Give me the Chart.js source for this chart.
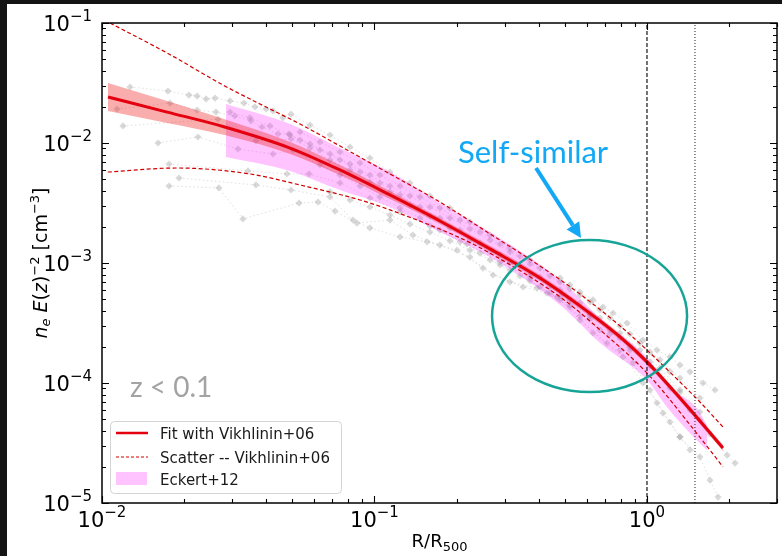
<!DOCTYPE html>
<html><head><meta charset="utf-8">
<script src="https://cdn.jsdelivr.net/npm/chart.js@4.4.1/dist/chart.umd.min.js"></script>
<style>html,body{margin:0;padding:0;background:#fff;overflow:hidden}canvas{display:block}</style>
</head><body><canvas id="c" width="782" height="556"></canvas>
<script>
// ---------- DATA ----------
const xRange = [0.01, 3.0];
const yRange = [1e-5, 1e-1];
const xTickExps = [-2, -1, 0];
const yTickExps = [-5, -4, -3, -2, -1];
const r500Line = 1.0;
const r200Line = 1.5;

const fitX     = [0.01052, 0.01734, 0.0282, 0.0490, 0.0747, 0.114, 0.1738, 0.2654, 0.4049, 0.5675, 0.796, 1.0, 1.321, 1.564, 1.90];
const fitY     = [0.0242, 0.0181, 0.0136, 0.00908, 0.00596, 0.00369, 0.00224, 0.00131, 7.5e-4, 4.39e-4, 2.42e-4, 1.50e-4, 7.5e-5, 4.83e-5, 2.87e-5];
const fitUpper = [0.0316, 0.0224, 0.0158, 0.0102, 0.00656, 0.00398, 0.00237, 0.00139, 7.94e-4, 4.64e-4, 2.56e-4, 1.58e-4, 7.94e-5, 5.11e-5, 3.04e-5];
const fitLower = [0.0185, 0.01468, 0.01166, 0.0081, 0.00541, 0.00341, 0.00211, 0.00124, 7.08e-4, 4.14e-4, 2.28e-4, 1.41e-4, 7.08e-5, 4.55e-5, 2.71e-5];

const scatterUpX = [0.0107, 0.01734, 0.0282, 0.038, 0.0533, 0.0747, 0.114, 0.1738, 0.2654, 0.4049, 0.5675, 0.796, 1.0, 1.321, 1.564, 1.90];
const scatterUpY = [0.1, 0.0562, 0.0299, 0.02113, 0.0144, 0.00944, 0.00552, 0.00322, 0.00175, 9.44e-4, 5.52e-4, 2.99e-4, 1.88e-4, 1.02e-4, 6.95e-5, 4.30e-5];
const scatterLoX = [0.0105, 0.01884, 0.0349, 0.0533, 0.0886, 0.114, 0.206, 0.265, 0.480, 0.673, 1.0, 1.52, 1.90];
const scatterLoY = [0.00573, 0.00619, 0.00552, 0.00447, 0.00335, 0.00277, 0.00162, 0.00121, 5.21e-4, 2.77e-4, 1.21e-4, 3.83e-5, 2.0e-5];

const eckertX     = [0.0285, 0.0490, 0.0746, 0.114, 0.174, 0.265, 0.480, 0.673, 1.0, 1.183, 1.52, 1.66];
const eckertUpper = [0.02113, 0.0144, 0.00908, 0.00573, 0.00316, 0.00181, 7.22e-4, 3.48e-4, 1.62e-4, 9.62e-5, 6.19e-5, 4.47e-5];
const eckertLower = [0.00764, 0.00585, 0.00406, 0.00293, 0.00181, 0.00112, 4.47e-4, 2.15e-4, 1.06e-4, 6.31e-5, 3.35e-5, 2.77e-5];

// individual cluster profiles [R/R500, ne E(z)^-2]
const clusterA = [[0.01267,0.0293],[0.01746,0.0271],[0.02085,0.0251],[0.02233,0.0246],[0.0241,0.0233],[0.026,0.0237],[0.02951,0.0224],[0.03319,0.0215],[0.03642,0.02],[0.03999,0.0192],[0.04242,0.0185],[0.04613,0.0162],[0.0494,0.0174],[0.058,0.0141],[0.0687,0.01166],[0.0813,0.00926],[0.0962,0.0075],[0.114,0.00573],[0.1349,0.00464],[0.1598,0.00362],[0.1892,0.00287],[0.224,0.0022],[0.2654,0.00171],[0.3141,0.00133],[0.3721,0.00106],[0.48,7.5e-4],[0.521,6.56e-4],[0.5675,5.73e-4],[0.634,4.92e-4],[0.69,4.3e-4],[0.7505,3.83e-4],[0.845,3.16e-4],[0.966,2.28e-4],[1.088,1.88e-4],[1.214,1.65e-4],[1.321,1.41e-4],[1.438,1.24e-4],[1.606,1.0e-4],[1.777,8.74e-5]];
const clusterB = [[0.01135,0.0192],[0.01776,0.0215],[0.02233,0.0188],[0.0262,0.0181],[0.0307,0.0168],[0.03523,0.0153],[0.03863,0.0136],[0.04425,0.0119],[0.04856,0.0119],[0.0533,0.01059],[0.0631,0.00874],[0.0747,0.00722],[0.0885,0.00573],[0.1047,0.00464],[0.1241,0.00369],[0.1469,0.00293],[0.1738,0.00237],[0.206,0.00188],[0.2439,0.00147],[0.2888,0.00117],[0.342,9.44e-4],[0.4049,7.64e-4],[0.4797,5.96e-4],[0.5675,4.64e-4],[0.672,3.48e-4],[0.796,2.61e-4],[0.9425,1.88e-4],[1.116,1.33e-4],[1.321,8.74e-5],[1.564,5.73e-5]];
const clusterC = [[0.01194,0.01387],[0.02665,0.0158],[0.03673,0.0104],[0.0494,0.0108],[0.058,0.00908],[0.0687,0.00722],[0.0813,0.00596],[0.0962,0.00473],[0.114,0.00391],[0.1349,0.00304],[0.1598,0.00246],[0.1892,0.00196],[0.224,0.00155],[0.2654,0.00124],[0.3141,0.001],[0.3721,7.94e-4],[0.4406,6.31e-4],[0.5214,4.92e-4],[0.6178,3.76e-4],[0.7317,2.77e-4],[0.8664,2.0e-4],[1.0257,1.39e-4],[1.214,9.08e-5],[1.438,5.96e-5],[1.703,3.76e-5],[1.967,2.51e-5],[2.105,2.15e-5]];
const clusterD = [[0.01606,0.01],[0.0225,0.01122],[0.03155,0.00891],[0.04242,0.0081],[0.05023,0.00874],[0.0631,0.00656],[0.0747,0.00541],[0.0885,0.00438],[0.1047,0.00355],[0.1241,0.00287],[0.1469,0.00237],[0.1738,0.00188],[0.206,0.0015],[0.2439,0.00121],[0.2888,9.62e-4],[0.342,7.79e-4],[0.4049,6.31e-4],[0.4797,4.92e-4],[0.5675,3.62e-4],[0.672,2.77e-4],[0.796,1.88e-4],[0.9662,1.0e-4],[1.088,6.81e-5],[1.214,4.73e-5],[1.321,3.55e-5],[1.438,2.77e-5]];
const clusterE = [[0.01762,0.00668],[0.03434,0.00585],[0.04774,0.00552],[0.0575,0.00552],[0.0747,0.00464],[0.0962,0.00348],[0.1241,0.00266],[0.1598,0.00203],[0.2185,0.00144],[0.2888,0.00102],[0.3721,7.5e-4],[0.4797,5.31e-4],[0.6178,3.62e-4],[0.796,2.37e-4],[1.0257,1.5e-4],[1.321,8.41e-5],[1.564,4.92e-5]];
const clusterF = [[0.01917,0.00511],[0.03673,0.00447],[0.0494,0.00406],[0.0687,0.00355],[0.08337,0.00228],[0.0962,0.00196],[0.1241,0.00165],[0.1559,0.0015],[0.2009,0.00128],[0.25,9.08e-4],[0.3141,6.95e-4],[0.3947,6.19e-4],[0.4673,5.21e-4],[0.5675,3.35e-4],[0.7129,2.15e-4],[0.8882,1.47e-4],[1.0257,8.74e-5],[1.145,5.62e-5],[1.321,3.55e-5],[1.564,2.42e-5],[1.703,1.55e-5],[1.823,1.12e-5]];
const clusterG = [[0.01762,0.00438],[0.02685,0.00422],[0.03289,0.00233],[0.05284,0.00316],[0.06206,0.00322],[0.07164,0.00271],[0.08623,0.00215],[0.114,0.00228],[0.1384,0.00171],[0.1738,0.00141],[0.224,0.00112],[0.2722,7.94e-4],[0.3508,6.31e-4],[0.4295,5.62e-4],[0.5214,4.3e-4],[0.6339,2.61e-4],[0.8166,1.65e-4]];
const clusterH = [[0.0533,0.01235],[0.0631,0.01019],[0.0747,0.00841],[0.0885,0.00681],[0.1047,0.00541],[0.1241,0.00438],[0.1469,0.00355],[0.1738,0.00287],[0.206,0.00228],[0.2439,0.00181],[0.2888,0.00144],[0.342,0.00114],[0.4049,9.08e-4],[0.4797,6.95e-4],[0.5675,5.41e-4],[0.672,4.06e-4],[0.796,2.99e-4],[0.9425,2.15e-4],[1.116,1.56e-4],[1.321,1.10e-4],[1.564,7.5e-5]];
const clusterI = [[0.02951,0.0181],[0.0349,0.0162],[0.04135,0.01387],[0.049,0.01166],[0.058,0.00981],[0.0687,0.0081],[0.0813,0.00668],[0.0962,0.00541],[0.114,0.00438],[0.1349,0.00362],[0.1598,0.00293],[0.1892,0.00237],[0.224,0.00192],[0.2654,0.00155],[0.3141,0.00124],[0.3721,9.81e-4],[0.4406,7.79e-4],[0.5214,6.07e-4],[0.6178,4.73e-4],[0.7317,3.48e-4],[0.8664,2.56e-4],[1.0257,1.81e-4],[1.214,1.24e-4]];
const clusterJ = [[0.0687,0.00391],[0.0813,0.00335],[0.0962,0.00293],[0.114,0.00251],[0.1349,0.00211],[0.1598,0.00181],[0.1892,0.00153],[0.224,0.00128],[0.2654,0.00106],[0.3141,8.74e-4],[0.3721,7.08e-4],[0.4406,5.62e-4],[0.5214,4.47e-4],[0.6178,3.42e-4],[0.7317,2.56e-4],[0.8664,1.88e-4]];
const clusters = [clusterA, clusterB, clusterC, clusterD, clusterE, clusterF, clusterG, clusterH, clusterI, clusterJ];

const legendLabels = ['Fit with Vikhlinin+06', 'Scatter -- Vikhlinin+06', 'Eckert+12'];
// annotations in data coordinates
const annoEllipse = {xMin: 0.27, xMax: 1.403, yMin: 8.41e-5, yMax: 1.555e-3};
const annoArrow = {from: [0.3915, 6.19e-3], to: [0.5727, 1.616e-3]};
const annoSelf = {text: 'Self-similar', x: 0.2025, y: 6.81e-3};
const annoZ = {text: 'z < 0.1', x: 0.01267, y: 7.64e-5};

// ---------- BUILD ----------
const pts = (xs, ys) => xs.map((x, i) => ({x, y: ys[i]}));
const RED = '#e4000f';
const datasets = [];
clusters.forEach(cl => datasets.push({
  data: cl.map(p => ({x: p[0], y: p[1]})), order: 20,
  showLine: true, borderColor: 'rgba(185,185,185,0.45)', borderWidth: 1, borderDash: [1.5, 2.5],
  pointStyle: 'rectRot', pointRadius: 3.6, pointBackgroundColor: 'rgba(150,150,150,0.36)', pointBorderWidth: 0,
  tension: 0
}));
datasets.push({data: pts(eckertX, eckertUpper), order: 15, fill: '+1', backgroundColor: 'rgba(255,40,255,0.28)', borderWidth: 0, pointRadius: 0, cubicInterpolationMode: 'monotone'});
datasets.push({data: pts(eckertX, eckertLower), order: 15, borderWidth: 0, pointRadius: 0, cubicInterpolationMode: 'monotone'});
datasets.push({data: pts(fitX, fitUpper), order: 12, fill: '+1', backgroundColor: 'rgba(238,40,40,0.38)', borderWidth: 0, pointRadius: 0, cubicInterpolationMode: 'monotone'});
datasets.push({data: pts(fitX, fitLower), order: 12, borderWidth: 0, pointRadius: 0, cubicInterpolationMode: 'monotone'});
datasets.push({data: pts(scatterUpX, scatterUpY), order: 6, borderColor: '#d20000', borderWidth: 1.2, borderDash: [4, 2.5], pointRadius: 0, cubicInterpolationMode: 'monotone'});
datasets.push({data: pts(scatterLoX, scatterLoY), order: 6, borderColor: '#d20000', borderWidth: 1.2, borderDash: [4, 2.5], pointRadius: 0, cubicInterpolationMode: 'monotone'});
datasets.push({data: pts(fitX, fitY), order: 4, borderColor: RED, borderWidth: 3, pointRadius: 0, cubicInterpolationMode: 'monotone'});
datasets.push({data: [{x: r500Line, y: yRange[0]}, {x: r500Line, y: yRange[1]}], order: 2, borderColor: '#000', borderWidth: 1.1, borderDash: [4, 2], pointRadius: 0});
datasets.push({data: [{x: r200Line, y: yRange[0]}, {x: r200Line, y: yRange[1]}], order: 2, borderColor: '#222', borderWidth: 1, borderDash: [1, 2], pointRadius: 0});

function fnt(p) { return (p.italic ? 'italic ' : '') + p.size + 'px ' + (p.family || '"DejaVu Sans"'); }
function drawRich(ctx, parts, x, y, align) {
  let w = 0;
  parts.forEach(p => { ctx.font = fnt(p); w += ctx.measureText(p.t).width; });
  let cx = align === 'center' ? x - w / 2 : align === 'right' ? x - w : x;
  ctx.textAlign = 'left'; ctx.textBaseline = 'alphabetic';
  parts.forEach(p => { ctx.font = fnt(p); ctx.fillText(p.t, cx, y + (p.dy || 0)); cx += ctx.measureText(p.t).width; });
}
function expParts(e) { return [{t: '10', size: 21}, {t: e < 0 ? '\u2212' + (-e) : String(e), size: 15, dy: -10}]; }

const deco = {
  id: 'deco',
  beforeDraw(chart) {
    const ctx = chart.ctx;
    ctx.save();
    ctx.fillStyle = '#141414'; ctx.fillRect(0, 0, chart.width, chart.height);
    ctx.fillStyle = '#ffffff'; ctx.fillRect(7, 4, chart.width - 7, chart.height - 4);
    ctx.restore();
  },
  afterDraw(chart) {
    const ctx = chart.ctx, a = chart.chartArea, xs = chart.scales.x, ys = chart.scales.y;
    const X = v => xs.getPixelForValue(v), Y = v => ys.getPixelForValue(v);
    ctx.save();
    // frame
    ctx.strokeStyle = '#000'; ctx.lineWidth = 1.5;
    ctx.strokeRect(a.left, a.top, a.right - a.left, a.bottom - a.top);
    // ticks (inward, all sides)
    ctx.lineWidth = 1.1;
    for (let d = -2; d <= 0; d++) for (let m = 1; m <= 9; m++) {
      const v = m * Math.pow(10, d); if (v < xRange[0] || v > xRange[1]) continue;
      const px = Math.round(X(v)) + 0.5, L = m === 1 ? 7 : 4;
      ctx.beginPath(); ctx.moveTo(px, a.bottom); ctx.lineTo(px, a.bottom - L); ctx.moveTo(px, a.top); ctx.lineTo(px, a.top + L); ctx.stroke();
    }
    for (let d = -5; d <= -1; d++) for (let m = 1; m <= 9; m++) {
      const v = m * Math.pow(10, d); if (v < yRange[0] || v > yRange[1] * 1.0001) continue;
      const py = Math.round(Y(v)) + 0.5, L = m === 1 ? 7 : 4;
      ctx.beginPath(); ctx.moveTo(a.left, py); ctx.lineTo(a.left + L, py); ctx.moveTo(a.right, py); ctx.lineTo(a.right - L, py); ctx.stroke();
    }
    // tick labels
    ctx.fillStyle = '#000';
    xTickExps.forEach(e => drawRich(ctx, expParts(e), X(Math.pow(10, e)), a.bottom + 24, 'center'));
    yTickExps.forEach(e => drawRich(ctx, expParts(e), a.left - 10, Y(Math.pow(10, e)) + 8, 'right'));
    // axis titles
    drawRich(ctx, [{t: 'R/R', size: 18}, {t: '500', size: 13, dy: 4}], (a.left + a.right) / 2, 547, 'center');
    ctx.save(); ctx.translate(47, (a.top + a.bottom) / 2); ctx.rotate(-Math.PI / 2);
    drawRich(ctx, [{t: 'n', size: 19, italic: true}, {t: 'e', size: 13, italic: true, dy: 3}, {t: ' ', size: 19},
      {t: 'E', size: 19, italic: true}, {t: '(', size: 19}, {t: 'z', size: 19, italic: true}, {t: ')', size: 19},
      {t: '\u22122', size: 13, dy: -8}, {t: ' [cm', size: 19}, {t: '\u22123', size: 13, dy: -8}, {t: ']', size: 19}], 0, 0, 'center');
    ctx.restore();
    // legend
    ctx.beginPath(); ctx.roundRect(110.5, 421.5, 231, 72, 4);
    ctx.fillStyle = 'rgba(255,255,255,0.85)'; ctx.fill(); ctx.strokeStyle = '#d4d4d4'; ctx.lineWidth = 1; ctx.stroke();
    ctx.strokeStyle = RED; ctx.lineWidth = 2.5; ctx.beginPath(); ctx.moveTo(116, 433); ctx.lineTo(148, 433); ctx.stroke();
    ctx.strokeStyle = '#d20000'; ctx.lineWidth = 1.2; ctx.setLineDash([3, 2]); ctx.beginPath(); ctx.moveTo(116, 457); ctx.lineTo(148, 457); ctx.stroke(); ctx.setLineDash([]);
    ctx.fillStyle = 'rgba(255,40,255,0.28)'; ctx.fillRect(116, 472, 31, 13);
    ctx.fillStyle = '#1a1a1a';
    legendLabels.forEach((t, i) => drawRich(ctx, [{t, size: 15}], 160, [438.5, 462.5, 484.5][i], 'left'));
    // ellipse
    const ex0 = X(annoEllipse.xMin), ex1 = X(annoEllipse.xMax), ey0 = Y(annoEllipse.yMax), ey1 = Y(annoEllipse.yMin);
    ctx.strokeStyle = '#17a497'; ctx.lineWidth = 2.5;
    ctx.beginPath(); ctx.ellipse((ex0 + ex1) / 2, (ey0 + ey1) / 2, (ex1 - ex0) / 2, (ey1 - ey0) / 2, 0, 0, Math.PI * 2); ctx.stroke();
    // arrow
    const ax0 = X(annoArrow.from[0]), ay0 = Y(annoArrow.from[1]), ax1 = X(annoArrow.to[0]), ay1 = Y(annoArrow.to[1]);
    const ang = Math.atan2(ay1 - ay0, ax1 - ax0), hl = 15, hw = 7.5;
    const bx = ax1 - hl * Math.cos(ang), by = ay1 - hl * Math.sin(ang);
    ctx.strokeStyle = '#12a8f5'; ctx.fillStyle = '#12a8f5'; ctx.lineWidth = 4;
    ctx.beginPath(); ctx.moveTo(ax0, ay0); ctx.lineTo(bx, by); ctx.stroke();
    ctx.beginPath(); ctx.moveTo(ax1, ay1);
    ctx.lineTo(bx + hw * Math.sin(ang), by - hw * Math.cos(ang));
    ctx.lineTo(bx - hw * Math.sin(ang), by + hw * Math.cos(ang)); ctx.closePath(); ctx.fill();
    // texts
    drawRich(ctx, [{t: annoSelf.text, size: 31, family: 'Lato'}], X(annoSelf.x), Y(annoSelf.y), 'left');
    ctx.fillStyle = '#a3a3a3';
    drawRich(ctx, [{t: annoZ.text, size: 28, family: 'Lato'}], X(annoZ.x), Y(annoZ.y), 'left');
    ctx.restore();
  }
};

new Chart(document.getElementById('c'), {
  type: 'line',
  data: {datasets},
  options: {
    responsive: false, animation: false, devicePixelRatio: 1, parsing: true,
    layout: {padding: {left: 102, top: 23, right: 5, bottom: 53}},
    scales: {
      x: {type: 'logarithmic', min: xRange[0], max: xRange[1], display: false},
      y: {type: 'logarithmic', min: yRange[0], max: yRange[1], display: false}
    },
    plugins: {legend: {display: false}, tooltip: {enabled: false}}
  },
  plugins: [deco]
});
</script></body></html>
